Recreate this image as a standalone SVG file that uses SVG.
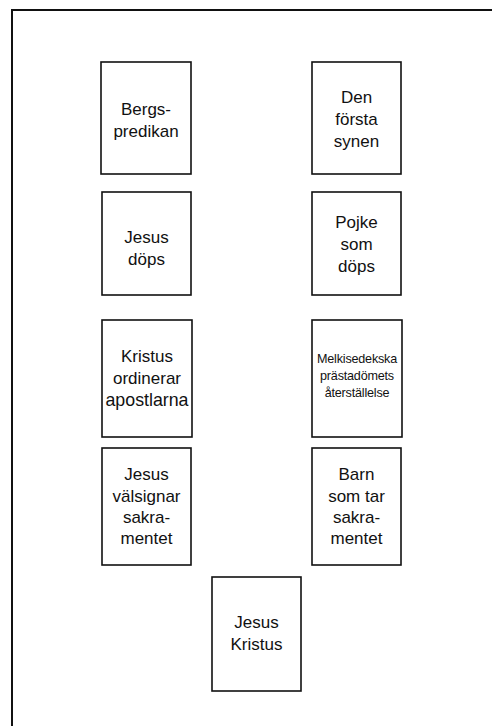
<svg xmlns="http://www.w3.org/2000/svg" width="492" height="726" viewBox="0 0 492 726">
  <style>
    .box { fill: #fff; stroke: #111; stroke-width: 1.6; }
    .frame { fill: none; stroke: #111; stroke-width: 2; }
    text { font-family: "Liberation Sans", Arial, Helvetica, sans-serif; font-size: 17px; fill: #111; text-anchor: middle; }
    .small { font-size: 12.6px; letter-spacing: -0.2px; }
  </style>
  <rect width="492" height="726" fill="#fff"/>
  <path class="frame" d="M12,726 V10 H492"/>
  <g id="connectors"/>
  <g id="bergspredikan">
    <rect class="box" x="101" y="62" width="90" height="112"/>
    <text x="146" y="115">Bergs-</text>
    <text x="146" y="137">predikan</text>
  </g>
  <g id="forsta-synen">
    <rect class="box" x="312" y="62" width="89" height="112"/>
    <text x="356.5" y="103">Den</text>
    <text x="356.5" y="125">första</text>
    <text x="356.5" y="147">synen</text>
  </g>
  <g id="jesus-dops">
    <rect class="box" x="102" y="192" width="89" height="103"/>
    <text x="146.5" y="243">Jesus</text>
    <text x="146.5" y="265">döps</text>
  </g>
  <g id="pojke-dops">
    <rect class="box" x="312" y="192" width="89" height="103"/>
    <text x="356.5" y="228">Pojke</text>
    <text x="356.5" y="250">som</text>
    <text x="356.5" y="272">döps</text>
  </g>
  <g id="kristus-ordinerar">
    <rect class="box" x="102" y="320" width="90" height="117"/>
    <text x="147" y="362">Kristus</text>
    <text x="147" y="384">ordinerar</text>
    <text x="147" y="406" style="font-size:17.8px">apostlarna</text>
  </g>
  <g id="melkisedekska">
    <rect class="box" x="312" y="320" width="90" height="117"/>
    <text class="small" x="357" y="363">Melkisedekska</text>
    <text class="small" x="357" y="380">prästadömets</text>
    <text class="small" x="357" y="397">återställelse</text>
  </g>
  <g id="jesus-valsignar">
    <rect class="box" x="102" y="448" width="89" height="117"/>
    <text x="146.5" y="480">Jesus</text>
    <text x="146.5" y="502">välsignar</text>
    <text x="146.5" y="523">sakra-</text>
    <text x="146.5" y="544">mentet</text>
  </g>
  <g id="barn-sakramentet">
    <rect class="box" x="312" y="448" width="89" height="117"/>
    <text x="356.5" y="480">Barn</text>
    <text x="356.5" y="502">som tar</text>
    <text x="356.5" y="523">sakra-</text>
    <text x="356.5" y="544">mentet</text>
  </g>
  <g id="jesus-kristus">
    <rect class="box" x="212" y="577" width="89" height="114"/>
    <text x="256.5" y="628">Jesus</text>
    <text x="256.5" y="650">Kristus</text>
  </g>
</svg>
